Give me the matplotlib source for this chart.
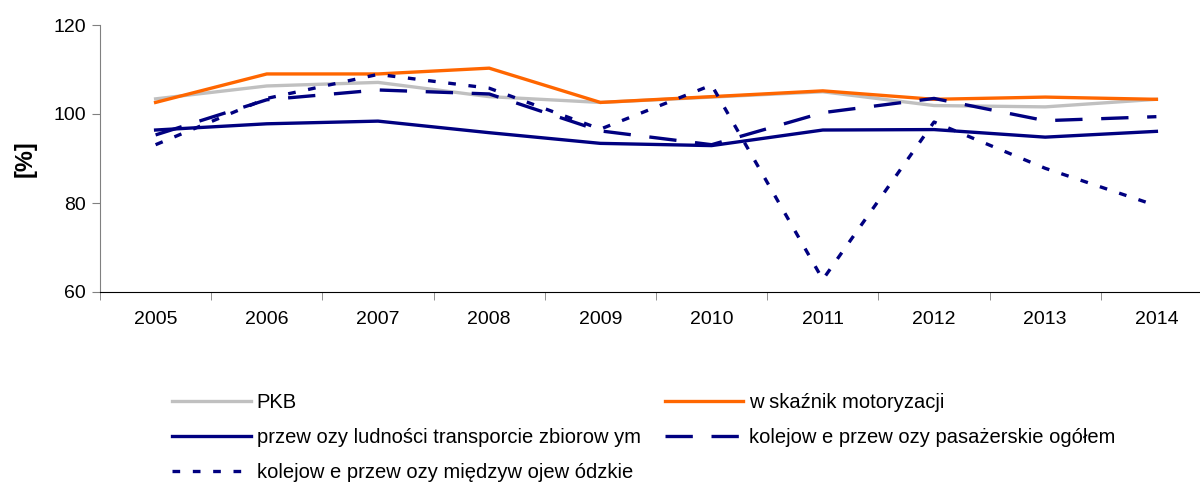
import numpy as np
import matplotlib
matplotlib.use('Agg')
import matplotlib.pyplot as plt

plt.rcParams['font.family'] = ['Liberation Sans', 'DejaVu Sans']

# Data (index, previous year = 100)
years = ['2005', '2006', '2007', '2008', '2009', '2010', '2011', '2012', '2013', '2014']
pkb = [103.4, 106.3, 107.1, 103.9, 102.6, 103.8, 105.0, 101.9, 101.6, 103.3]
motoryzacja = [102.6, 109.0, 109.0, 110.3, 102.6, 103.9, 105.2, 103.3, 103.8, 103.3]
transport_zbiorowy = [96.4, 97.8, 98.4, 95.8, 93.4, 92.9, 96.4, 96.5, 94.8, 96.1]
kolej_ogolem = [95.3, 103.2, 105.4, 104.5, 96.2, 93.1, 100.3, 103.5, 98.5, 99.4]
kolej_miedzywoj = [93.1, 103.5, 108.9, 105.8, 96.6, 106.5, 62.8, 98.2, 87.8, 79.4]

labels = ['PKB',
          'w skaźnik motoryzacji',
          'przew ozy ludności transporcie zbiorow ym',
          'kolejow e przew ozy pasażerskie ogółem',
          'kolejow e przew ozy międzyw ojew ódzkie']

navy = '#000080'
x = np.arange(len(years))

fig = plt.figure(figsize=(12, 4.82), dpi=100)
ax = fig.add_axes([100 / 1200, 190 / 482, 1112 / 1200, 267 / 482])

lw = 2.4
l1, = ax.plot(x, pkb, color='#c0c0c0', lw=lw, solid_joinstyle='miter')
l2, = ax.plot(x, motoryzacja, color='#ff6600', lw=lw, solid_joinstyle='miter')
l3, = ax.plot(x, transport_zbiorowy, color=navy, lw=lw)
l4, = ax.plot(x, kolej_ogolem, color=navy, lw=lw, linestyle=(0, (8.2, 5.6)))
l5, = ax.plot(x, kolej_miedzywoj, color=navy, lw=lw, linestyle=(0, (2.3, 3.8)))

ax.set_xlim(-0.5, 9.5)
ax.set_ylim(60, 120)
ax.set_yticks([60, 80, 100, 120])
ax.set_xticks(x)
ax.set_xticklabels(years)
ax.set_xticks(np.arange(-0.5, 10, 1), minor=True)
ax.tick_params(axis='x', which='major', length=0, pad=14, labelsize=14)
ax.tick_params(axis='x', which='minor', length=6, color='#808080', direction='out')
ax.tick_params(axis='y', length=6, color='#808080', labelsize=14, pad=4)

for s in ['top', 'right']:
    ax.spines[s].set_visible(False)
ax.spines['left'].set_color('#808080')
ax.spines['bottom'].set_color('black')

ax.set_ylabel('[%]', fontsize=17, fontweight='bold', labelpad=12)

# legend: two columns, filled column-wise
fig.legend([l1, l3, l5, l2, l4],
           [labels[0], labels[2], labels[4], labels[1], labels[3]],
           ncol=2, loc='upper left', bbox_to_anchor=(172 / 1200, 1 - 393 / 482),
           frameon=False, fontsize=14.5, handlelength=3.9, handletextpad=0.3,
           columnspacing=1.2, labelspacing=0.8, borderpad=0, borderaxespad=0)

fig.savefig('out.png', dpi=100)
